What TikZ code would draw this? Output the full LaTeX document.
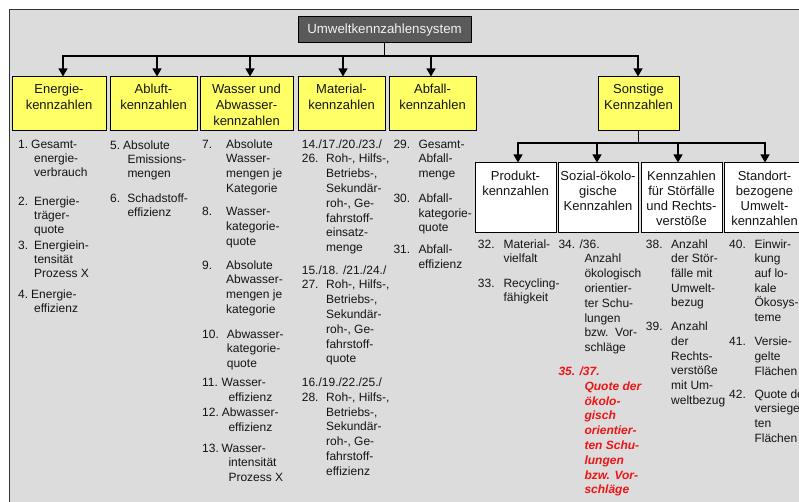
\documentclass[tikz,border=0pt]{standalone}
\usepackage{fontspec}
\setmainfont{Liberation Sans}
\usetikzlibrary{arrows.meta}

\definecolor{bg}{HTML}{DCDCDC}
\definecolor{frame}{HTML}{333333}
\definecolor{kzyellow}{HTML}{FFFF66}
\definecolor{headgray}{HTML}{5A5A5A}
\definecolor{headtext}{HTML}{F2F2F2}
\definecolor{ink}{HTML}{141414}
\definecolor{kzred}{HTML}{F01414}

% top-aligned, centred box text: height, width, first baseline, lines
\newcommand{\kzbt}[4]{\parbox[c][#1][t]{#2}{\centering\rule{0pt}{#3}#4}}
% list entry: name, style, x, y of first line, lines
\newcommand{\kzi}[5]{\node[#2] (#1) at (#3,#4-5.7) {\strut#5};}

\begin{document}
\begin{tikzpicture}[x=1pt,y=-1pt,
  conn/.style={draw=black, line width=1.1pt},
  bus/.style={conn, line cap=rect},
  arr/.style={conn, -{Triangle[length=8pt,width=9pt]}},
  head/.style={draw=black, line width=1pt, fill=headgray, text=headtext,
    minimum width=173pt, minimum height=26pt, inner sep=0pt,
    font=\fontsize{13.3}{16}\selectfont},
  kzbox/.style={draw=black, line width=1pt, fill=kzyellow, text=ink,
    inner sep=0pt, font=\fontsize{13}{16}\selectfont},
  subbox/.style={draw=black, line width=1pt, fill=white, text=ink,
    inner sep=0pt, font=\fontsize{13}{15}\selectfont},
  liste/.style={anchor=north west, inner sep=0pt, align=left, text=ink,
    font=\fontsize{12}{14.7}\selectfont},
  listeA/.style={liste, font=\fontsize{12}{14}\selectfont},
  listeM/.style={liste, font=\fontsize{12}{14.8}\selectfont},
  rot/.style={liste, text=kzred, font=\fontsize{12}{14.8}\selectfont\bfseries\itshape}]

\useasboundingbox (0,0) rectangle (799,502);
\clip (0,0) rectangle (799,502);

% background panel
\draw[fill=bg, draw=frame, line width=1.3pt] (9.5,9.5) rectangle (830,530);

% root
\node[head] (hdr) at (384.5,30) {Umweltkennzahlensystem};

% main categories
\node[kzbox] (energie)  at (59,104)    {\kzbt{54pt}{94pt}{16.5pt}{Energie-\\kennzahlen}};
\node[kzbox] (abluft)   at (153.5,104) {\kzbt{54pt}{87pt}{16.5pt}{Abluft-\\kennzahlen}};
\node[kzbox] (wasser)   at (246.5,104) {\kzbt{54pt}{93pt}{16.5pt}{Wasser und\\Abwasser-\\kennzahlen}};
\node[kzbox] (material) at (341.5,104) {\kzbt{54pt}{87pt}{16.5pt}{Material-\\kennzahlen}};
\node[kzbox] (abfall)   at (432.5,104) {\kzbt{54pt}{87pt}{16.5pt}{Abfall-\\kennzahlen}};
\node[kzbox] (sonstige) at (638.5,104) {\kzbt{54pt}{81pt}{16.5pt}{Sonstige\\Kennzahlen}};

% sub categories of "Sonstige"
\node[subbox] (produkt)  at (515.5,198) {\kzbt{70pt}{81pt}{18pt}{Produkt-\\kennzahlen}};
\node[subbox] (sozial)   at (598,198)   {\kzbt{70pt}{80pt}{18pt}{Sozial-ökolo-\\gische\\Kennzahlen}};
\node[subbox] (stoer)    at (681.5,198) {\kzbt{70pt}{81pt}{18pt}{Kennzahlen\\für Störfälle\\und Rechts-\\verstöße}};
\node[subbox] (standort) at (764.5,198) {\kzbt{70pt}{81pt}{18pt}{Standort-\\bezogene\\Umwelt-\\kennzahlen}};

% connectors from the root
\coordinate (bus) at (384.5,56);
\coordinate (aE) at ([xshift=4pt]energie.north);
\coordinate (aL) at ([xshift=3.5pt]abluft.north);
\coordinate (aW) at ([xshift=3.5pt]wasser.north);
\coordinate (aM) at ([xshift=1.5pt]material.north);
\coordinate (aA) at ([xshift=-1.5pt]abfall.north);
\coordinate (aS) at ([xshift=-0.5pt]sonstige.north);
\draw[conn] (hdr.south) -- (hdr.south |- bus);
\draw[bus] (aE |- bus) -- (aS |- bus);
\foreach \t in {aE,aL,aW,aM,aA,aS} \draw[arr] (\t |- bus) -- (\t);

% connectors below "Sonstige"
\coordinate (sbus) at (638.5,143);
\coordinate (bP) at ([xshift=2.5pt]produkt.north);
\coordinate (bS) at ([xshift=-1pt]sozial.north);
\coordinate (bK) at ([xshift=-3.5pt]stoer.north);
\coordinate (bU) at ([xshift=0.5pt]standort.north);
\draw[conn] (sonstige.south) -- (sonstige.south |- sbus);
\draw[bus] (bP |- sbus) -- (bU |- sbus);
\foreach \t in {bP,bS,bK,bU} \draw[arr] (\t |- sbus) -- (\t);

% Energiekennzahlen
\kzi{e1}{listeA}{18}{144.7}{\makebox[13pt][l]{1.}Gesamt-\\\hspace*{16pt}energie-\\\hspace*{16pt}verbrauch}
\kzi{e2}{listeA}{18}{201}{\makebox[16pt][l]{2.}Energie-\\\hspace*{16pt}träger-\\\hspace*{16pt}quote}
\kzi{e3}{listeA}{18}{245}{\makebox[16pt][l]{3.}Energiein-\\\hspace*{16pt}tensität\\\hspace*{16pt}Prozess X}
\kzi{e4}{listeA}{18}{294.3}{\makebox[13pt][l]{4.}Energie-\\\hspace*{16pt}effizienz}

% Abluftkennzahlen
\kzi{l5}{listeA}{110}{145}{\makebox[13pt][l]{5.}Absolute\\\hspace*{17.3pt}Emissions-\\\hspace*{17.3pt}mengen}
\kzi{l6}{listeA}{110}{198.3}{\makebox[17.3pt][l]{6.}Schadstoff-\\\hspace*{17.3pt}effizienz}

% Wasser- und Abwasserkennzahlen
\kzi{w7}{liste}{202}{143.3}{\makebox[24pt][l]{7.}Absolute\\\hspace*{24pt}Wasser-\\\hspace*{24pt}mengen je\\\hspace*{24pt}Kategorie}
\kzi{w8}{liste}{202}{211}{\makebox[24pt][l]{8.}Wasser-\\\hspace*{24pt}kategorie-\\\hspace*{24pt}quote}
\kzi{w9}{liste}{202}{264.3}{\makebox[24pt][l]{9.}Absolute\\\hspace*{24pt}Abwasser-\\\hspace*{24pt}mengen je\\\hspace*{24pt}kategorie}
\kzi{w10}{liste}{202}{333.3}{\makebox[24.7pt][l]{10.}Abwasser-\\\hspace*{24.7pt}kategorie-\\\hspace*{24.7pt}quote}
\kzi{w11}{liste}{202}{381.7}{\makebox[19.5pt][l]{11.}Wasser-\\\hspace*{26.3pt}effizienz}
\kzi{w12}{liste}{202}{411.7}{\makebox[19.7pt][l]{12.}Abwasser-\\\hspace*{26.3pt}effizienz}
\kzi{w13}{liste}{202}{447.3}{\makebox[19.5pt][l]{13.}Wasser-\\\hspace*{26.3pt}intensität\\\hspace*{26.3pt}Prozess X}

% Materialkennzahlen
\kzi{m1}{listeM}{301.7}{143.3}{14./17./20./23./\\\makebox[24.3pt][l]{26.}Roh-, Hilfs-,\\\hspace*{24.3pt}Betriebs-,\\\hspace*{24.3pt}Sekundär-\\\hspace*{24.3pt}roh-, Ge-\\\hspace*{24.3pt}fahrstoff-\\\hspace*{24.3pt}einsatz-\\\hspace*{24.3pt}menge}
\kzi{m2}{listeM}{301.7}{269.3}{15./18. /21./24./\\\makebox[24.3pt][l]{27.}Roh-, Hilfs-,\\\hspace*{24.3pt}Betriebs-,\\\hspace*{24.3pt}Sekundär-\\\hspace*{24.3pt}roh-, Ge-\\\hspace*{24.3pt}fahrstoff-\\\hspace*{24.3pt}quote}
\kzi{m3}{listeM}{301.7}{381.7}{16./19./22./25./\\\makebox[24.3pt][l]{28.}Roh-, Hilfs-,\\\hspace*{24.3pt}Betriebs-,\\\hspace*{24.3pt}Sekundär-\\\hspace*{24.3pt}roh-, Ge-\\\hspace*{24.3pt}fahrstoff-\\\hspace*{24.3pt}effizienz}

% Abfallkennzahlen
\kzi{a29}{liste}{393.3}{143.3}{\makebox[25pt][l]{29.}Gesamt-\\\hspace*{25pt}Abfall-\\\hspace*{25pt}menge}
\kzi{a30}{liste}{393.3}{197.7}{\makebox[25pt][l]{30.}Abfall-\\\hspace*{25pt}kategorie-\\\hspace*{25pt}quote}
\kzi{a31}{liste}{393.3}{249}{\makebox[25pt][l]{31.}Abfall-\\\hspace*{25pt}effizienz}

% Produktkennzahlen
\kzi{p32}{liste}{477.7}{243.3}{\makebox[25.6pt][l]{32.}Material-\\\hspace*{25.6pt}vielfalt}
\kzi{p33}{liste}{477.7}{282.3}{\makebox[25.6pt][l]{33.}Recycling-\\\hspace*{25.6pt}fähigkeit}

% Sozial-ökologische Kennzahlen
\kzi{s34}{listeM}{558.3}{243.3}{34. /36.\\\hspace*{26pt}Anzahl\\\hspace*{26pt}ökologisch\\\hspace*{26pt}orientier-\\\hspace*{26pt}ter Schu-\\\hspace*{26pt}lungen\\\hspace*{26pt}bzw.\ \ Vor-\\\hspace*{26pt}schläge}
\kzi{s35}{rot}{558.3}{370.7}{35. /37.\\\hspace*{26pt}Quote der\\\hspace*{26pt}ökolo-\\\hspace*{26pt}gisch\\\hspace*{26pt}orientier-\\\hspace*{26pt}ten Schu-\\\hspace*{26pt}lungen\\\hspace*{26pt}bzw. Vor-\\\hspace*{26pt}schläge}

% Kennzahlen für Störfälle und Rechtsverstöße
\kzi{k38}{liste}{645.7}{243.3}{\makebox[25.3pt][l]{38.}Anzahl\\\hspace*{25.3pt}der Stör-\\\hspace*{25.3pt}fälle mit\\\hspace*{25.3pt}Umwelt-\\\hspace*{25.3pt}bezug}
\kzi{k39}{liste}{645.7}{326}{\makebox[25.3pt][l]{39.}Anzahl\\\hspace*{25.3pt}der\\\hspace*{25.3pt}Rechts-\\\hspace*{25.3pt}verstöße\\\hspace*{25.3pt}mit Um-\\\hspace*{25.3pt}weltbezug}

% Standortbezogene Umweltkennzahlen
\kzi{u40}{liste}{729}{243.3}{\makebox[25.3pt][l]{40.}Einwir-\\\hspace*{25.3pt}kung\\\hspace*{25.3pt}auf lo-\\\hspace*{25.3pt}kale\\\hspace*{25.3pt}Ökosys-\\\hspace*{25.3pt}teme}
\kzi{u41}{liste}{729}{341}{\makebox[25.3pt][l]{41.}Versie-\\\hspace*{25.3pt}gelte\\\hspace*{25.3pt}Flächen}
\kzi{u42}{liste}{729}{393.3}{\makebox[25.3pt][l]{42.}Quote der\\\hspace*{25.3pt}versiegel-\\\hspace*{25.3pt}ten\\\hspace*{25.3pt}Flächen}

\end{tikzpicture}
\end{document}
